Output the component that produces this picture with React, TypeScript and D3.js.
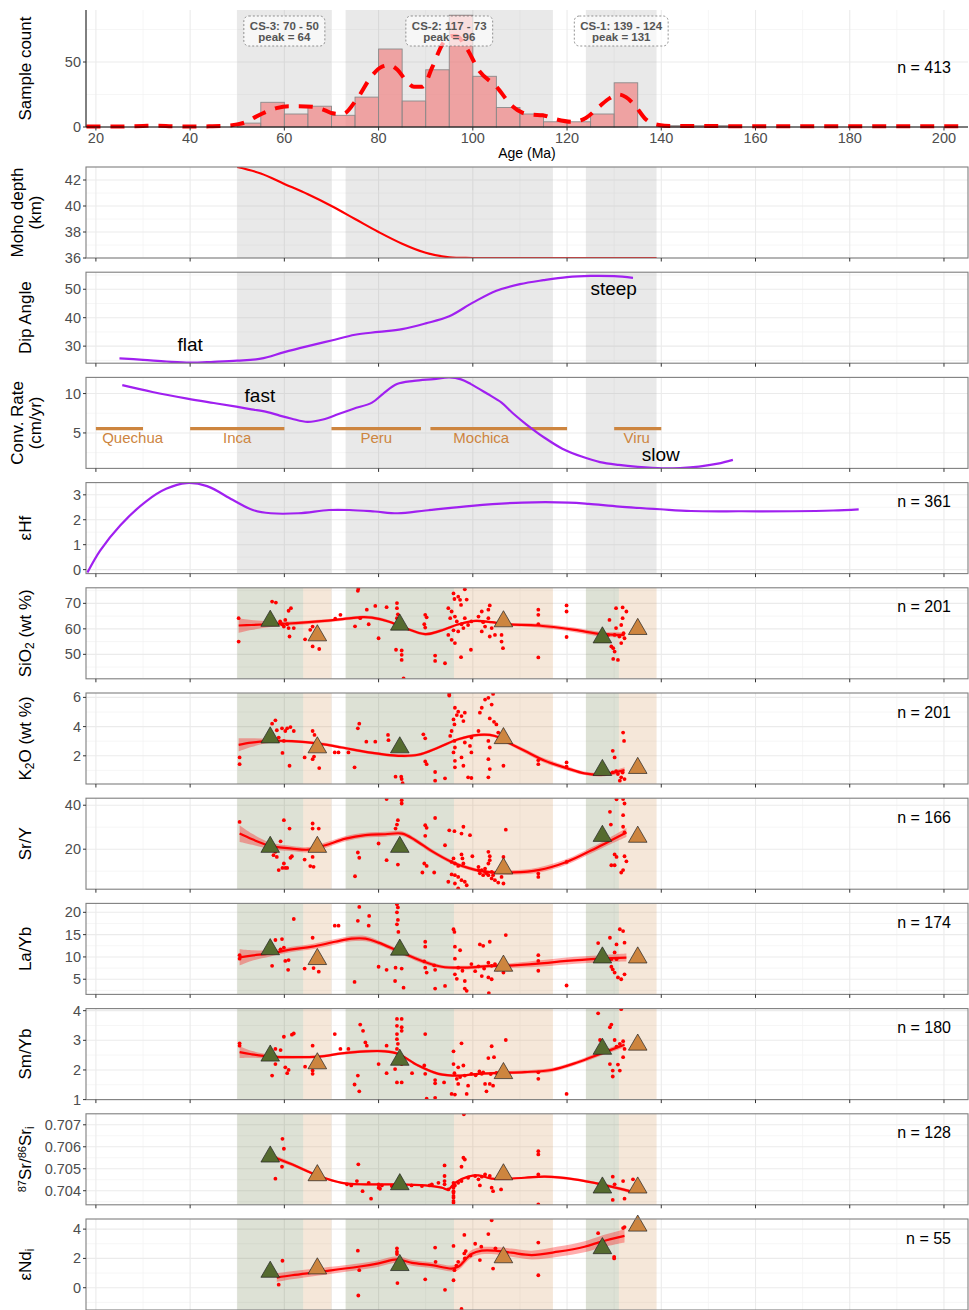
import React, { useEffect, useRef } from 'react';
import * as d3 from 'd3';

// ---------- shared axis / clusters ----------
const ageDomain = [17.9, 205.1];
const ageTicks = [20, 40, 60, 80, 100, 120, 140, 160, 180, 200];
const ageMinor = [30, 50, 70, 90, 110, 130, 150, 170, 190];

const clusterName = ['CS-3', 'CS-2', 'CS-1'];
const clusterStart = [50, 73, 124];
const clusterEnd = [70, 117, 139];
const clusterPeak = [64, 96, 131];

// ---------- histogram ----------
const binStarts = [50, 55, 60, 65, 70, 75, 80, 85, 90, 95, 100, 105, 110, 115, 120, 125, 130, 135, 140, 145, 150];
const binCounts = [3, 19, 10, 16, 9, 23, 60, 20, 44, 86, 39, 15, 10, 4, 4, 10, 34, 0, 1, 1, 1];
const densityCurve = [
  [18, 0.3], [20, 0.3], [25, 0.3], [30, 0.8], [33, 1], [36, 0.6], [40, 0.3], [44, 0.5], [47, 0.8],
  [50, 2], [52, 4], [54, 8], [56, 11.5], [58.3, 14.5], [61, 16], [63, 16], [66, 15.5], [68.5, 13],
  [70.3, 10.5], [72.4, 10], [75.3, 21], [78.7, 40], [80.5, 46], [82.3, 47.5], [84, 44], [85.8, 36],
  [87.5, 31], [89.3, 31], [91.4, 46], [93.6, 64], [95.5, 70], [96.5, 70], [98.6, 61], [101.4, 43],
  [105, 31], [108.4, 16], [110.5, 11], [112.5, 9.5], [114.8, 9], [117.6, 6], [121, 4], [124, 7],
  [126.8, 15.6], [129, 22], [131, 25], [132.5, 23], [134.6, 15.6], [136.7, 6], [139.5, 1.5],
  [142, 0.8], [150, 0.7], [160, 0.6], [180, 0.6], [205, 0.6],
];

// ---------- model curves ----------
const mohoDepth = [
  [50, 43], [55, 42.5], [60, 41.7], [65, 40.9], [70, 40.0], [75, 39.0], [80, 38.0], [85, 37.1],
  [90, 36.4], [95, 36.05], [100, 36], [110, 36], [120, 36], [130, 36], [139, 36],
];
const dipAngle = [
  [25, 25.7], [30, 25.2], [35, 24.6], [40, 24.2], [45, 24.5], [50, 24.9], [55, 25.6], [60, 27.9],
  [65, 30], [70, 32], [75, 34], [80, 35], [85, 36], [90, 38], [95, 40.5], [100, 45.3], [105, 49.5],
  [110, 51.8], [115, 53.2], [120, 54.3], [125, 54.7], [130, 54.6], [134, 54.0],
];
const convRate = [
  [25.6, 11.07], [32, 10.2], [39.4, 9.36], [45, 8.8], [49.8, 8.33], [53, 8], [56.4, 7.65], [59, 7.2],
  [61.6, 6.8], [64.9, 6.4], [68.2, 6.7], [71.5, 7.4], [74.7, 8.08], [78.6, 8.85], [81, 10],
  [83.9, 11.2], [87.5, 11.6], [91.7, 11.84], [95, 12.05], [97.5, 11.8], [99.6, 11.2], [103, 10],
  [106.1, 8.85], [108.5, 7.5], [111.4, 6.07], [115.3, 4.36], [119, 3.0], [123.1, 2.0], [127, 1.3],
  [131, 0.94], [135, 0.7], [140.2, 0.51], [144, 0.55], [148, 0.73], [152, 1.1], [155.2, 1.58],
];
const orogenyName = ['Quechua', 'Inca', 'Peru', 'Mochica', 'Viru'];
const orogenyStart = [20, 40, 70, 91, 130];
const orogenyEnd = [30, 60, 89, 120, 140];
const orogenyLabelAge = [27.8, 50, 79.5, 101.8, 134.8];
const orogenyRate = 5.55;

const epsHf = [
  [18.2, -0.12], [20.9, 0.76], [25.2, 1.78], [30.6, 2.73], [34.9, 3.24], [39.2, 3.47], [43.6, 3.35],
  [49, 2.8], [53.3, 2.39], [57.1, 2.26], [63, 2.26], [69.5, 2.39], [73.8, 2.39], [79.2, 2.33],
  [84.1, 2.26], [90, 2.37], [99.8, 2.56], [110.6, 2.69], [120.3, 2.69], [124.6, 2.64], [131.1, 2.53],
  [139.8, 2.42], [146.3, 2.35], [157.1, 2.34], [167.9, 2.34], [176.5, 2.37], [181.9, 2.42],
];

// ---------- geochemistry: [age, value] ----------
const sio2Points = [
  [50.3, 64.2], [50.3, 55], [57.4, 70.7], [58.2, 70.3], [60.9, 67.1], [61.4, 68.1], [60.2, 63.5], [60.6, 61.8],
  [59.9, 60.9], [60.9, 60.3], [62, 60.3], [61.1, 57], [59.1, 62.9], [59.5, 61.8], [64.4, 55.9], [66, 53.1],
  [67.4, 52.1], [66, 60.9], [65.5, 59.6], [75.7, 75.7], [75.6, 74.9], [70.8, 64], [71.9, 65.5], [75, 61],
  [76.1, 64.2], [77.5, 67.5], [77.9, 61.8], [79.3, 69], [81.7, 68.5], [80, 56.3], [83.9, 70.1], [83.9, 68.1],
  [84.1, 65.7], [83.9, 64.2], [83.7, 51.8], [84.9, 51.5], [84.9, 49.8], [84.9, 47.8], [85.3, 40.6], [89.9, 65.5],
  [90.2, 64.5], [89.9, 60.5], [89.7, 61.8], [92, 49.5], [92, 47.4], [94.1, 46.5], [95.9, 73.9], [96.1, 71.7],
  [96.9, 72.6], [97.3, 71.4], [98.3, 75.5], [98.7, 71.5], [97.5, 69.4], [94.8, 68.1], [95.5, 66.8], [96.2, 64.8],
  [95.2, 64.2], [96.6, 62.9], [94.8, 57.6], [95.5, 55.7], [96.2, 54.4], [95.9, 59.4], [97.6, 61.8], [98, 60.3],
  [96.9, 59], [99, 61.5], [97.5, 48.9], [99.6, 51.8], [98.3, 64.2], [99.7, 62.9], [101.2, 64.8], [101.9, 66.8],
  [102.2, 62.6], [103.3, 67.5], [103.6, 69.2], [103.3, 64.2], [104, 60.3], [103.6, 57], [104.7, 57.6], [106.1, 57.6],
  [106.1, 55], [106.4, 52.4], [101.9, 59], [102.6, 60.9], [113.9, 67.5], [113.9, 65.5], [113.9, 61.8], [113.9, 48.8],
  [119.9, 69.2], [119.9, 66.8], [119.9, 56.8], [129, 63.5], [130.4, 68.1], [131.8, 68.4], [132.6, 66.8], [131.8, 64.2],
  [131.5, 61.5], [130.4, 60.3], [130.1, 57.6], [131.1, 57], [132.2, 56.3], [131.5, 54.4], [129.4, 53.1], [129.8, 52.4],
  [130.1, 51.1], [129.8, 48.2], [130.8, 47.8], [132, 58.3], [128.7, 57.6],
];
const sio2Smooth = [
  [50.3, 61.3, 2.9], [53, 61.5, 2], [56.7, 61.8, 1.2], [61, 62.1, 0.8], [65.2, 62.6, 0.7], [70.8, 63.5, 0.6],
  [76.5, 64.6, 0.6], [78.6, 64.4, 0.6], [82.1, 62.9, 0.6], [85.6, 60.3, 0.6], [89.9, 57.9, 0.6], [92.7, 59.0, 0.6],
  [97, 61.8, 0.5], [100.5, 63.1, 0.5], [104, 62.6, 0.5], [106.8, 61.8, 0.6], [113.9, 61.3, 0.8], [121.6, 59.6, 0.9],
  [127.3, 57.9, 0.9], [132.2, 57.6, 1.1],
];
const sio2Means = [63.1, 57.4, 61.6, 62.9, 56.6, 59.9];

const k2oPoints = [
  [50.5, 1.89], [50.5, 1.43], [57.4, 4.2], [58.1, 4.43], [58.4, 3.75], [59.5, 3.88], [60.2, 3.7], [60.6, 3.88],
  [61.3, 3.97], [62, 3.7], [59.9, 3.02], [58.8, 3.25], [59.6, 2.2], [61.1, 1.32], [66, 3.7], [66.4, 3.43],
  [66, 1.77], [66.3, 1.95], [64.3, 1.89], [67.4, 1.16], [70.7, 2.23], [71.5, 2.23], [73.6, 2.23], [75.9, 4.2],
  [75.6, 3.88], [74.9, 1.21], [77.4, 2.97], [79.3, 2.97], [82, 3.43], [82.1, 3.07], [83.6, 0.57], [84.8, 0.57],
  [84.9, 0.41], [85.1, 0.12], [89.5, 3.47], [89.9, 3.2], [89.9, 1.61], [90.2, 1.43], [92, 0.89], [92, 0.3],
  [94.1, 0.46], [95, 6.24], [95, 6.13], [96.2, 5.29], [96.6, 4.79], [96.9, 5.02], [97.6, 4.72], [98.3, 4.95],
  [98, 4.38], [95.9, 4.49], [96.1, 4.15], [95.5, 3.7], [95.2, 3.36], [96.1, 3.02], [96.2, 2.57], [95.9, 2.23],
  [96.2, 1.66], [96.2, 1.21], [97.6, 1.89], [98, 1.32], [98.3, 2.91], [99.7, 2.23], [99.4, 2.68], [99.7, 3.25],
  [101.2, 3.7], [101.5, 4.95], [101.9, 5.29], [102.6, 5.85], [103.3, 5.97], [104, 5.51], [104.3, 6.24], [103.6, 4.56],
  [104.5, 4.33], [105, 4.15], [105.4, 3.59], [103.3, 3.02], [103.6, 2.57], [103.3, 1.77], [103.6, 1.09], [103.3, 0.53],
  [106.5, 1.32], [99, 0.53], [99.7, 0.48], [113.9, 1.7], [113.9, 1.43], [119.9, 1.55], [119.9, 1.25], [129.7, 2.34],
  [130.1, 1.89], [131.9, 3.59], [132.1, 3.02], [129.7, 0.87], [130.8, 0.75], [131.5, 0.53], [132.2, 0.41], [131.2, 0.3],
  [130.4, 0.95], [131.8, 0.85],
];
const k2oSmooth = [
  [50.3, 2.75, 0.45], [53, 2.9, 0.3], [56.7, 3.02, 0.15], [61.6, 3.0, 0.1], [67.3, 2.84, 0.1], [72.2, 2.57, 0.1],
  [77.9, 2.23, 0.1], [84.2, 2.0, 0.1], [88.4, 2.07, 0.1], [92.7, 2.57, 0.1], [96.9, 3.13, 0.1], [101.2, 3.43, 0.1],
  [104.7, 3.36, 0.1], [106.8, 3.02, 0.12], [111, 2.34, 0.15], [115.3, 1.66, 0.15], [119.9, 1.16, 0.15],
  [123.7, 0.8, 0.12], [127.3, 0.71, 0.12], [132.2, 1.02, 0.2],
];
const k2oMeans = [3.25, 2.57, 2.57, 3.2, 1.02, 1.16];

const srYPoints = [
  [50.5, 32.4], [59.9, 33.2], [61.1, 29.4], [59.2, 23.6], [58.1, 18.8], [58.4, 16.5], [57.7, 17.3], [59.9, 13.5],
  [59.6, 11.5], [58.8, 10.5], [60.2, 11.5], [60.6, 11.5], [61.3, 16.1], [61.6, 16.8], [66, 31.7], [66, 29.4],
  [67.3, 29.4], [64.3, 15.3], [65.5, 12.3], [66.2, 12], [66, 16.5], [75, 7.7], [75.6, 18.5], [75.9, 16.1],
  [81.7, 42.8], [84.9, 42.3], [84.9, 40.8], [84.1, 33.2], [83.9, 31.2], [83.6, 29.4], [80, 22.6], [81.7, 15],
  [84.1, 13], [89.9, 30.9], [90.2, 29.7], [89.9, 26.1], [92, 34.2], [94.1, 21.8], [89.7, 13.5], [90.2, 12.4],
  [89.3, 9.4], [91.8, 9.4], [95, 28.6], [96.1, 28.2], [97.6, 27.1], [98, 30.2], [99.4, 26.4], [95.9, 15.8],
  [95.5, 14.2], [96.2, 13.5], [96.9, 12.4], [97.6, 17.6], [97.8, 15.8], [98, 13.5], [95.5, 8.5], [96.2, 8.2],
  [96.9, 7.4], [94.8, 5.2], [96.2, 4.4], [96.9, 2.2], [97.6, 5.9], [98.3, 5.2], [98.7, 3.6], [99.9, 16.8],
  [101.2, 12], [101.9, 10.5], [102.6, 9.7], [103.3, 18.8], [103.6, 16.8], [103.6, 15], [103.3, 13.5], [103.3, 8.2],
  [104, 6.7], [104.7, 5.9], [105.4, 4.8], [106.5, 16.5], [106.1, 7.4], [106.5, 4.4], [107, 28.9], [113.9, 8.9],
  [113.9, 7.4], [119.9, 14.2], [129.1, 37], [129.3, 31.2], [130.5, 42.7], [131.9, 42.8], [132.2, 40.8], [131.9, 35.5],
  [131.9, 30.2], [130.1, 17.6], [130.5, 16.5], [129.4, 12.7], [130.1, 12.7], [132.2, 16.8], [132.6, 14.5],
  [131.9, 10.5], [131.5, 9.4], [132.2, 27.6], [101.2, 10.5], [101.5, 9], [102.2, 8.2], [102.6, 11.2], [104, 9.7],
  [104.3, 8.2], [102.9, 9],
];
const srYSmooth = [
  [50.5, 27.1, 3.8], [53.2, 24.5, 2.5], [57, 21.5, 1.5], [61.6, 20.3, 1.2], [65.2, 19.8, 1.2], [68.7, 21.8, 1.2],
  [73, 24.8, 1.2], [77.2, 26.4, 1.1], [81.4, 26.8, 1.1], [85, 27.1, 1.1], [87.8, 24.1, 1], [91.3, 19.1, 1],
  [95.5, 14.2, 0.9], [99, 11.5, 0.8], [101.9, 10, 0.8], [104.7, 9.4, 0.8], [108.2, 9.4, 1], [113.9, 10.5, 1.2],
  [119.9, 14.2, 1.3], [125.2, 19.5, 1.4], [128.7, 23.3, 1.5], [132.6, 27.6, 2],
];
const srYMeans = [21, 21, 21, 11.2, 26, 25.6];

const laYbPoints = [
  [50.5, 10.4], [50.5, 9.6], [62, 18.5], [58.1, 13.8], [59.5, 14], [59.9, 12.1], [59.2, 11.7], [60.2, 9.1],
  [60.9, 9.3], [57.4, 8], [60.8, 7.1], [66, 14.3], [66.9, 9.6], [64.3, 7.4], [66.2, 7.5], [67.3, 6.7],
  [70.7, 17], [71.5, 17], [75.6, 18.1], [75.9, 21.2], [78, 19.2], [77.9, 17], [80, 7.8], [81.7, 7.1],
  [74.9, 4.4], [83.9, 21.8], [84.1, 21.1], [83.9, 20], [84.1, 18.3], [83.9, 17.3], [84.2, 15.6], [83.6, 7.6],
  [84.9, 7.4], [85.3, 3.1], [83.5, 4.6], [89.9, 13.4], [89.9, 12.3], [89.7, 9], [89.9, 7.6], [90.2, 6.5],
  [91.8, 8.1], [92, 7.1], [92, 2.9], [94.1, 3.5], [95.9, 16.2], [96.1, 15.6], [96.2, 12.3], [97.3, 11.5],
  [96.2, 9.6], [96.9, 7.6], [96.2, 6.1], [96.6, 5.1], [98.3, 4.6], [98.3, 2.9], [98.7, 2.4], [97.8, 6.9],
  [99.7, 8.4], [101.5, 12.8], [102.2, 12.5], [103.6, 13.4], [103.3, 8.7], [104, 8], [104.7, 8.4], [101.9, 5.7],
  [103.3, 5.4], [104, 5], [103.4, 1.9], [107, 14.9], [106.1, 8.7], [106.5, 6.5], [113.9, 10.4], [113.9, 9.1],
  [113.9, 6.9], [119.9, 3.6], [126.6, 13.1], [129.1, 14.3], [130.5, 12.8], [131.2, 16.2], [131.9, 15.8],
  [132.2, 13.2], [130.1, 11], [130.5, 9.5], [129.4, 7.8], [129.7, 7.2], [130.1, 6.5], [130.8, 5.4], [131.5, 5],
  [132.2, 6.1], [129.4, 9.5], [101.2, 7.9], [102.4, 7.4], [100.5, 6.8], [105.2, 7.2],
];
const laYbSmooth = [
  [50.5, 9.9, 1.8], [53, 10.3, 1.2], [57, 10.8, 0.7], [61.6, 11.7, 0.6], [65.9, 12.3, 0.6], [70.8, 13.4, 0.6],
  [74.3, 14.1, 0.6], [77.2, 14.1, 0.6], [80, 13.2, 0.5], [84.2, 11.3, 0.5], [89.2, 9.1, 0.5], [93.4, 7.8, 0.4],
  [98.3, 7.6, 0.4], [104, 8, 0.4], [106.8, 8, 0.5], [113.9, 8.5, 0.7], [119.9, 9.1, 0.8], [127.3, 9.6, 0.8],
  [132.6, 9.85, 0.9],
];
const laYbMeans = [11.7, 9.5, 11.6, 8, 9.85, 9.85];

const smYbPoints = [
  [50.5, 2.9], [50.5, 2.82], [59.9, 3.12], [61.6, 3.19], [62, 3.23], [58.1, 2.71], [59.2, 2.67], [58.1, 2.2],
  [60.2, 2.09], [60.9, 2.0], [60.6, 1.89], [57.4, 1.81], [64.4, 2.11], [66, 2.82], [66, 1.98], [66, 1.87],
  [70.7, 3.21], [71.9, 2.71], [73.6, 2.71], [76.1, 3.53], [76.7, 3.32], [77.2, 2.93], [77.5, 2.82], [75.6, 1.81],
  [74.9, 1.51], [75.9, 1.28], [80, 2.2], [81.7, 2.82], [81.7, 1.89], [83.9, 3.72], [84.9, 3.72], [83.9, 3.49],
  [84.9, 3.44], [84.9, 3.32], [83.9, 3.21], [83.9, 3.04], [84.1, 2.88], [83.9, 2.71], [83.5, 2.03], [84.9, 2.2],
  [83.9, 1.58], [84.9, 1.58], [89.9, 3.21], [89.7, 2.15], [89.9, 1.87], [92, 1.66], [92, 1.55], [93.9, 1.58],
  [90.2, 1.03], [92, 1.06], [87.1, 1.89], [95.9, 2.63], [95.9, 2.2], [96.9, 2.09], [98, 2.15], [97.6, 2.9],
  [96.1, 1.89], [96.6, 1.7], [96.9, 1.53], [98.3, 1.81], [99, 1.47], [98.7, 1.19], [95.5, 1.19], [96.2, 1.17],
  [99.7, 1.87], [101.9, 1.87], [103.3, 2.4], [104.5, 2.43], [104, 2.8], [107, 3.01], [102.6, 1.53], [103.6, 1.53],
  [102.9, 1.28], [104.3, 1.47], [102.2, 1.92], [113.9, 1.92], [113.9, 1.7], [119.9, 1.19], [126.6, 3.91],
  [129.1, 3.44], [129.4, 3.53], [131.5, 4.05], [127, 3.01], [130.1, 3.01], [130.5, 2.79], [131.2, 2.88],
  [131.9, 2.97], [132.2, 2.71], [129.1, 2.2], [130.8, 2.18], [129.7, 1.98], [131.2, 1.98], [129.7, 1.78],
  [131.9, 2.43], [100.6, 1.82], [101.4, 1.95], [103.8, 1.86], [105, 1.9], [97.3, 1.76],
];
const smYbSmooth = [
  [50.5, 2.6, 0.2], [53, 2.53, 0.12], [57, 2.45, 0.07], [61.6, 2.43, 0.05], [67.3, 2.45, 0.05], [72.2, 2.56, 0.05],
  [77.2, 2.63, 0.05], [81.4, 2.63, 0.05], [84.2, 2.54, 0.05], [88.4, 2.15, 0.05], [92.7, 1.87, 0.05],
  [96.9, 1.81, 0.04], [101.2, 1.87, 0.04], [105.4, 1.9, 0.05], [111, 1.93, 0.06], [116.7, 2.0, 0.07],
  [122.3, 2.26, 0.07], [127.3, 2.56, 0.07], [132.2, 2.85, 0.09],
];
const smYbMeans = [2.48, 2.22, 2.34, 1.89, 2.71, 2.85];

const srIsoPoints = [
  [58.1, 0.70455], [59.6, 0.70636], [59.9, 0.70591], [59.5, 0.70509], [75.7, 0.7052], [76.6, 0.70398],
  [78.4, 0.70364], [73.3, 0.70429], [74.2, 0.70424], [75.4, 0.70444], [80, 0.70429], [80, 0.70414],
  [80.3, 0.70409], [84.6, 0.70424], [90.8, 0.70424], [94, 0.70515], [94, 0.70467], [94, 0.70444], [94, 0.70429],
  [95.9, 0.70436], [96.2, 0.70424], [95.9, 0.70398], [95.9, 0.70376], [95.9, 0.70353], [94.8, 0.70406],
  [96.9, 0.70436], [97.6, 0.70444], [98, 0.7055], [98.3, 0.70542], [97.6, 0.70509], [101.2, 0.70452],
  [101.5, 0.70424], [103.6, 0.70467], [104, 0.70414], [104.3, 0.70398], [106, 0.70406], [113.9, 0.7058],
  [113.9, 0.70565], [113.9, 0.70474], [113.9, 0.70338], [129.7, 0.70464], [130.1, 0.70429], [131.9, 0.70444],
  [134, 0.70452], [129.7, 0.70358], [132.2, 0.70364], [98.1, 0.70748], [95.9, 0.70421], [95.9, 0.70414],
  [95.9, 0.70391], [95.9, 0.70368], [95.9, 0.70345], [77.9, 0.70436], [80.7, 0.70424], [82.8, 0.70421],
  [87, 0.70424], [89.2, 0.70421], [91.3, 0.70429], [92.7, 0.70436], [99, 0.70459], [100.5, 0.70467],
  [101.9, 0.70464], [102.6, 0.70474],
];
const srIsoSmooth = [
  [58.1, 0.7055, 0.0001], [61.6, 0.7052, 0.00008], [67.3, 0.70467, 0.00006], [72.2, 0.70436, 0.00005],
  [77.2, 0.70429, 0.00005], [84.2, 0.70429, 0.00004], [89.9, 0.70424, 0.00004], [93.4, 0.70414, 0.00004],
  [94.8, 0.70406, 0.00004], [96.2, 0.70436, 0.00004], [99, 0.70464, 0.00004], [101.2, 0.7047, 0.00004],
  [104, 0.70455, 0.00004], [111, 0.70459, 0.00005], [115.3, 0.70464, 0.00006], [121.6, 0.70452, 0.00006],
  [127.3, 0.70429, 0.00006], [133.3, 0.70398, 0.00008],
];
const srIsoMeans = [0.70555, 0.7047, 0.70429, 0.70474, 0.70414, 0.70414];

const ndPoints = [
  [59.6, 1.84], [58.8, 0.21], [75.6, 2.53], [75.9, 1.2], [75.7, -0.53], [83.9, 2.69], [83.9, 2.46], [83.9, 2.3],
  [84, 0.32], [89.9, 0.57], [92, 2.74], [92.1, 1.77], [94.1, -0.14], [95.9, 2.85], [96.1, 1.2], [95.9, 0.51],
  [97.6, -1.45], [98.2, 2.34], [96.9, 1.77], [98.3, 2], [101.5, 1.89], [103.3, 3.66], [104, 4.6], [104.3, 1.31],
  [104.8, 2.69], [106.1, 2.11], [113.9, 3.08], [113.9, 0.85], [126.6, 3.72], [130, 2.11], [130, 2.0],
  [131.9, 4.07], [132.2, 4.14], [98.2, 3.6], [98.5, 2.5], [99.5, 2.2], [100.5, 3.0], [101.8, 2.8], [96.5, 1.5],
];
const ndSmooth = [
  [58.4, 0.69, 0.3], [61.6, 0.85, 0.28], [67.3, 1.08, 0.25], [75.7, 1.43, 0.22], [80, 1.66, 0.22],
  [83.9, 1.93, 0.22], [87.1, 1.7, 0.2], [91.3, 1.54, 0.2], [95.5, 1.31, 0.2], [96.9, 1.43, 0.22],
  [99.7, 2.3, 0.25], [101.9, 2.53, 0.25], [104.7, 2.53, 0.25], [108.2, 2.39, 0.28], [112.5, 2.23, 0.3],
  [118.1, 2.46, 0.35], [123.7, 2.8, 0.38], [127.3, 3.15, 0.4], [132.2, 3.54, 0.45],
];
const ndMeans = [1.08, 1.31, 1.54, 2.07, 2.69, 4.23];

// label pieces: [text, 'sub' | 'sup' | '']
type Seg = [string, string];

const panels = [
  { kind: 'line', label: [[['Moho depth', '']], [['(km)', '']]], domain: [36, 43], ticks: [36, 38, 40, 42], curve: mohoDepth, color: '#ff0000' },
  { kind: 'line', label: [[['Dip Angle', '']]], domain: [24, 56], ticks: [30, 40, 50], curve: dipAngle, color: '#a020f0' },
  { kind: 'line', label: [[['Conv. Rate', '']], [['(cm/yr)', '']]], domain: [0.5, 12.05], ticks: [5, 10], curve: convRate, color: '#a020f0' },
  { kind: 'line', label: [[['εHf', '']]], domain: [-0.16, 3.49], ticks: [0, 1, 2, 3], curve: epsHf, color: '#a020f0', n: 361 },
  { kind: 'geo', label: [[['SiO', ''], ['2', 'sub'], [' (wt %)', '']]], domain: [40.4, 76.1], ticks: [50, 60, 70], points: sio2Points, smooth: sio2Smooth, means: sio2Means, n: 201 },
  { kind: 'geo', label: [[['K', ''], ['2', 'sub'], ['O (wt %)', '']]], domain: [0.07, 6.3], ticks: [2, 4, 6], points: k2oPoints, smooth: k2oSmooth, means: k2oMeans, n: 201 },
  { kind: 'geo', label: [[['Sr/Y', '']]], domain: [1.8, 43.2], ticks: [20, 40], points: srYPoints, smooth: srYSmooth, means: srYMeans, n: 166 },
  { kind: 'geo', label: [[['La/Yb', '']]], domain: [1.6, 22], ticks: [5, 10, 15, 20], points: laYbPoints, smooth: laYbSmooth, means: laYbMeans, n: 174 },
  { kind: 'geo', label: [[['Sm/Yb', '']]], domain: [1, 4.07], ticks: [1, 2, 3, 4], points: smYbPoints, smooth: smYbSmooth, means: smYbMeans, n: 180 },
  { kind: 'geo', label: [[['87', 'sup'], ['Sr/', ''], ['86', 'sup'], ['Sr', ''], ['i', 'sub']]], domain: [0.70336, 0.7075], ticks: [0.704, 0.705, 0.706, 0.707], fmt: '.3f', points: srIsoPoints, smooth: srIsoSmooth, means: srIsoMeans, n: 128 },
  { kind: 'geo', label: [[['εNd', ''], ['i', 'sub']]], domain: [-1.52, 4.69], ticks: [0, 2, 4], points: ndPoints, smooth: ndSmooth, means: ndMeans, n: 55 },
];

const FONT = "'Liberation Sans', Arial, Helvetica, sans-serif";
const GREEN = '#556b2f';
const TAN = '#cd853f';

const minorOf = (ticks: number[], domain: number[]) => {
  const step = ticks.length > 1 ? ticks[1] - ticks[0] : 1;
  const out = ticks.map((t) => t - step / 2).concat([ticks[ticks.length - 1] + step / 2]);
  return out.filter((v) => v > domain[0] && v < domain[1]);
};

const App = () => {
  const ref = useRef<SVGSVGElement>(null);

  useEffect(() => {
    const svg = d3.select(ref.current);
    svg.selectAll('*').remove();

    const left = 86, right = 968;
    const x = d3.scaleLinear().domain(ageDomain).range([left, right]);
    const smooth = d3.curveCatmullRom.alpha(0.5);

    const drawGrid = (g: any, y: any, top: number, bottom: number, ticks: number[], domain: number[]) => {
      g.selectAll(null).data(minorOf(ticks, domain)).enter().append('line')
        .attr('x1', left).attr('x2', right).attr('y1', (d: number) => y(d)).attr('y2', (d: number) => y(d))
        .attr('stroke', '#f4f4f4').attr('stroke-width', 0.8);
      g.selectAll(null).data(ageMinor).enter().append('line')
        .attr('x1', (d: number) => x(d)).attr('x2', (d: number) => x(d)).attr('y1', top).attr('y2', bottom)
        .attr('stroke', '#f4f4f4').attr('stroke-width', 0.8);
      g.selectAll(null).data(ticks).enter().append('line')
        .attr('x1', left).attr('x2', right).attr('y1', (d: number) => y(d)).attr('y2', (d: number) => y(d))
        .attr('stroke', '#ebebeb').attr('stroke-width', 1.1);
      g.selectAll(null).data(ageTicks).enter().append('line')
        .attr('x1', (d: number) => x(d)).attr('x2', (d: number) => x(d)).attr('y1', top).attr('y2', bottom)
        .attr('stroke', '#ebebeb').attr('stroke-width', 1.1);
    };

    const yTicks = (g: any, y: any, ticks: number[], fmt?: string) => {
      const f = fmt ? d3.format(fmt) : (v: number) => String(v);
      g.selectAll(null).data(ticks).enter().append('line')
        .attr('x1', left - 3).attr('x2', left).attr('y1', (d: number) => y(d)).attr('y2', (d: number) => y(d))
        .attr('stroke', '#333').attr('stroke-width', 1);
      g.selectAll(null).data(ticks).enter().append('text')
        .attr('x', left - 5).attr('y', (d: number) => y(d)).attr('dy', '0.35em')
        .attr('text-anchor', 'end').attr('font-size', 14.5).attr('fill', '#4d4d4d')
        .text((d: number) => f(d));
    };

    const xTickMarks = (g: any, bottom: number) => {
      g.selectAll(null).data(ageTicks).enter().append('line')
        .attr('x1', (d: number) => x(d)).attr('x2', (d: number) => x(d)).attr('y1', bottom).attr('y2', bottom + 3.5)
        .attr('stroke', '#333').attr('stroke-width', 1);
    };

    const yLabel = (lines: Seg[][], cy: number) => {
      const xs = lines.length === 1 ? [25] : [17, 35];
      lines.forEach((segs, i) => {
        const t = svg.append('text')
          .attr('transform', `translate(${xs[i]},${cy}) rotate(-90)`)
          .attr('text-anchor', 'middle').attr('dy', '0.35em')
          .attr('font-size', 17).attr('fill', '#000');
        segs.forEach(([s, kind]) => {
          const sp = t.append('tspan').text(s);
          if (kind === 'sub') sp.attr('baseline-shift', '-25%').attr('font-size', 12);
          if (kind === 'sup') sp.attr('baseline-shift', '45%').attr('font-size', 11);
        });
      });
    };

    // ---------- histogram panel ----------
    const hTop = 10, hBottom = 127;
    const yH = d3.scaleLinear().domain([0, 90]).range([hBottom, hTop]);
    const gh = svg.append('g');
    drawGrid(gh, yH, hTop, hBottom, [0, 50], [0, 90]);
    clusterStart.forEach((s, i) => {
      gh.append('rect').attr('x', x(s)).attr('width', x(clusterEnd[i]) - x(s))
        .attr('y', hTop).attr('height', hBottom - hTop).attr('fill', '#999').attr('fill-opacity', 0.22);
    });
    gh.selectAll(null).data(binStarts.map((b, i) => [b, binCounts[i]]).filter((d) => d[1] > 0)).enter().append('rect')
      .attr('x', (d: number[]) => x(d[0])).attr('width', (d: number[]) => x(d[0] + 5) - x(d[0]))
      .attr('y', (d: number[]) => yH(d[1])).attr('height', (d: number[]) => yH(0) - yH(d[1]))
      .attr('fill', '#f08080').attr('fill-opacity', 0.68).attr('stroke', '#8a8a8a').attr('stroke-width', 0.9);
    gh.append('path').datum(densityCurve)
      .attr('d', d3.line().x((d: any) => x(d[0])).y((d: any) => yH(d[1])).curve(d3.curveMonotoneX) as any)
      .attr('fill', 'none').attr('stroke', '#ff0000').attr('stroke-width', 4).attr('stroke-dasharray', '14 10');
    // cluster labels
    clusterStart.forEach((s, i) => {
      const cx = x((s + clusterEnd[i]) / 2);
      const lg = gh.append('g');
      const t1 = lg.append('text').attr('x', cx).attr('y', 30).attr('text-anchor', 'middle')
        .attr('font-size', 11.5).attr('font-weight', 'bold').attr('fill', '#555')
        .text(`${clusterName[i]}: ${clusterEnd[i]} - ${s}`);
      lg.append('text').attr('x', cx).attr('y', 41).attr('text-anchor', 'middle')
        .attr('font-size', 11.5).attr('font-weight', 'bold').attr('fill', '#555')
        .text(`peak = ${clusterPeak[i]}`);
      const w = (t1.node() as SVGTextElement).getComputedTextLength() + 12;
      lg.insert('rect', 'text').attr('x', cx - w / 2).attr('y', 16).attr('width', w).attr('height', 30)
        .attr('rx', 5).attr('fill', '#fff').attr('fill-opacity', 0.65)
        .attr('stroke', '#777').attr('stroke-width', 0.8).attr('stroke-dasharray', '2 2');
    });
    gh.append('line').attr('x1', left).attr('x2', left).attr('y1', hTop).attr('y2', hBottom).attr('stroke', '#000');
    gh.append('line').attr('x1', left).attr('x2', right).attr('y1', hBottom).attr('y2', hBottom).attr('stroke', '#000');
    yTicks(gh, yH, [0, 50]);
    xTickMarks(gh, hBottom);
    gh.selectAll(null).data(ageTicks).enter().append('text')
      .attr('x', (d: number) => x(d)).attr('y', 143).attr('text-anchor', 'middle')
      .attr('font-size', 14.5).attr('fill', '#4d4d4d').text((d: number) => d);
    gh.append('text').attr('x', (left + right) / 2).attr('y', 158).attr('text-anchor', 'middle')
      .attr('font-size', 14).attr('fill', '#000').text('Age (Ma)');
    gh.append('text').attr('x', 951).attr('y', 67).attr('dy', '0.35em').attr('text-anchor', 'end')
      .attr('font-size', 16).text('n = 413');
    yLabel([[['Sample count', '']]], (hTop + hBottom) / 2);

    // ---------- stacked panels ----------
    const top0 = 167, step = 105.2, ph = 91;
    panels.forEach((p: any, i: number) => {
      const top = top0 + i * step, bottom = top + ph;
      const y = d3.scaleLinear().domain(p.domain).range([bottom, top]);
      const g = svg.append('g');
      const clipId = `clip${i}`;
      g.append('clipPath').attr('id', clipId).append('rect')
        .attr('x', left).attr('y', top).attr('width', right - left).attr('height', ph);

      drawGrid(g, y, top, bottom, p.ticks, p.domain);

      if (p.kind === 'line') {
        clusterStart.forEach((s, k) => {
          g.append('rect').attr('x', x(s)).attr('width', x(clusterEnd[k]) - x(s))
            .attr('y', top).attr('height', ph).attr('fill', '#999').attr('fill-opacity', 0.22);
        });
      } else {
        clusterStart.forEach((s, k) => {
          g.append('rect').attr('x', x(s)).attr('width', x(clusterPeak[k]) - x(s))
            .attr('y', top).attr('height', ph).attr('fill', GREEN).attr('fill-opacity', 0.2);
          g.append('rect').attr('x', x(clusterPeak[k])).attr('width', x(clusterEnd[k]) - x(clusterPeak[k]))
            .attr('y', top).attr('height', ph).attr('fill', TAN).attr('fill-opacity', 0.2);
        });
      }

      const inner = g.append('g').attr('clip-path', `url(#${clipId})`);

      if (p.kind === 'line') {
        if (i === 2) {
          orogenyName.forEach((name, k) => {
            inner.append('line').attr('x1', x(orogenyStart[k])).attr('x2', x(orogenyEnd[k]))
              .attr('y1', y(orogenyRate)).attr('y2', y(orogenyRate))
              .attr('stroke', TAN).attr('stroke-width', 3.2);
            inner.append('text').attr('x', x(orogenyLabelAge[k])).attr('y', y(orogenyRate) + 14)
              .attr('text-anchor', 'middle').attr('font-size', 15).attr('fill', TAN).text(name);
          });
        }
        inner.append('path').datum(p.curve)
          .attr('d', d3.line().x((d: any) => x(d[0])).y((d: any) => y(d[1])).curve(smooth) as any)
          .attr('fill', 'none').attr('stroke', p.color).attr('stroke-width', 2.2);
      } else {
        inner.selectAll(null).data(p.points).enter().append('circle')
          .attr('cx', (d: number[]) => x(d[0])).attr('cy', (d: number[]) => y(d[1]))
          .attr('r', 1.9).attr('fill', '#ff0000');
        inner.append('path').datum(p.smooth)
          .attr('d', d3.area().x((d: any) => x(d[0])).y0((d: any) => y(d[1] - d[2])).y1((d: any) => y(d[1] + d[2])).curve(smooth) as any)
          .attr('fill', '#ff0000').attr('fill-opacity', 0.32);
        inner.append('path').datum(p.smooth)
          .attr('d', d3.line().x((d: any) => x(d[0])).y((d: any) => y(d[1])).curve(smooth) as any)
          .attr('fill', 'none').attr('stroke', '#ff0000').attr('stroke-width', 2.2);
        const triAges: number[] = [];
        clusterStart.forEach((s, k) => {
          triAges.push((s + clusterPeak[k]) / 2, (clusterPeak[k] + clusterEnd[k]) / 2);
        });
        g.selectAll(null).data(p.means).enter().append('path')
          .attr('d', d3.symbol().type(d3.symbolTriangle).size(150) as any)
          .attr('transform', (d: number, k: number) => `translate(${x(triAges[k])},${y(d)})`)
          .attr('fill', (d: number, k: number) => (k % 2 === 0 ? GREEN : TAN))
          .attr('stroke', '#222').attr('stroke-width', 0.7);
      }

      g.append('rect').attr('x', left).attr('y', top).attr('width', right - left).attr('height', ph)
        .attr('fill', 'none').attr('stroke', '#7f7f7f').attr('stroke-width', 1.1);
      yTicks(g, y, p.ticks, p.fmt);
      xTickMarks(g, bottom);
      if (p.n) {
        g.append('text').attr('x', 951).attr('y', top + 19).attr('dy', '0.35em').attr('text-anchor', 'end')
          .attr('font-size', 16).text(`n = ${p.n}`);
      }
      yLabel(p.label, top + ph / 2);
    });

    // annotations on the model panels (panel 1 = dip, panel 2 = conv. rate)
    const yDip = d3.scaleLinear().domain(panels[1].domain).range([top0 + step + ph, top0 + step]);
    const yConv = d3.scaleLinear().domain(panels[2].domain).range([top0 + 2 * step + ph, top0 + 2 * step]);
    const notes = [
      ['flat', 40, 30.7, yDip], ['steep', 129.9, 50.35, yDip],
      ['fast', 54.8, 9.75, yConv], ['slow', 139.9, 2.3, yConv],
    ];
    notes.forEach(([t, a, v, sc]: any) => {
      svg.append('text').attr('x', x(a)).attr('y', sc(v)).attr('dy', '0.35em').attr('text-anchor', 'middle')
        .attr('font-size', 19).attr('fill', '#000').text(t);
    });
  }, []);

  return (
    <svg ref={ref} width={969} height={1310} fontFamily={FONT}
      style={{ position: 'absolute', left: 0, top: 0, background: '#fff' }} />
  );
};

export default App;
